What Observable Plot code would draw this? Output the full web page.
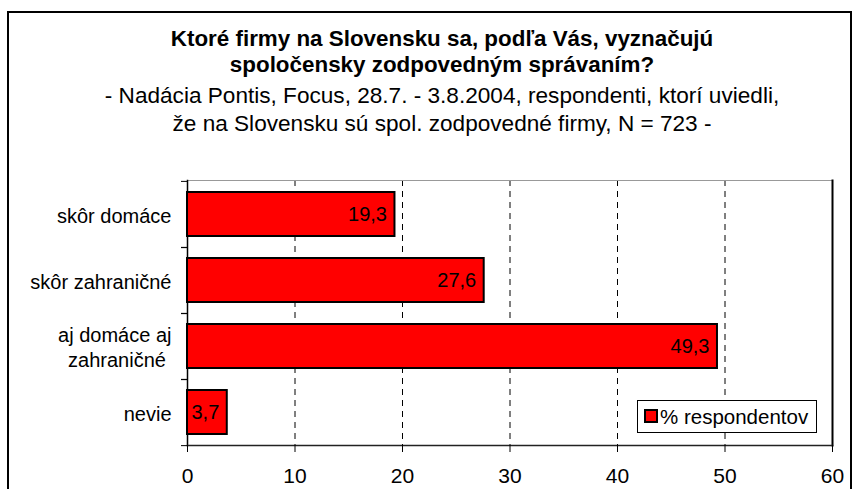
<!DOCTYPE html>
<html>
<head>
<meta charset="utf-8">
<script src="https://cdn.jsdelivr.net/npm/d3@7"></script>
<script src="https://cdn.jsdelivr.net/npm/@observablehq/plot@0.6"></script>
<style>
  html, body { margin: 0; padding: 0; background: white; }
  body { width: 858px; height: 489px; overflow: hidden; position: relative; font-family: "Liberation Sans", Arial, sans-serif; }
  #frame { position: absolute; left: 7px; top: 11px; width: 845px; height: 600px; border: 2px solid black; box-sizing: border-box; pointer-events: none; }
  #title { position: absolute; left: 0; top: 26px; width: 884px; text-align: center; font-weight: bold; font-size: 22.4px; line-height: 26px; color: black; }
  #subtitle { position: absolute; left: 0; top: 82px; width: 884px; text-align: center; font-size: 22.6px; line-height: 27.5px; color: black; }
  #chart { position: absolute; left: 0; top: 0; }
  #legend { position: absolute; left: 637px; top: 400px; width: 180px; height: 33px; box-sizing: border-box; border: 1px solid black; background: white; font-size: 20.5px; line-height: 31px; color: black; white-space: nowrap; }
  #legend .sw { position: absolute; left: 6px; top: 8px; width: 14px; height: 14px; box-sizing: border-box; border: 2px solid black; background: #ff0000; }
  #legend .lt { position: absolute; left: 22px; top: 0; }
</style>
</head>
<body>
<div id="chart"></div>
<div id="title">Ktoré firmy na Slovensku sa, podľa Vás, vyznačujú<br>spoločensky zodpovedným správaním?</div>
<div id="subtitle">- Nadácia Pontis, Focus, 28.7. - 3.8.2004, respondenti, ktorí uviedli,<br>že na Slovensku sú spol. zodpovedné firmy, N = 723 -</div>
<div id="legend"><span class="sw"></span><span class="lt">% respondentov</span></div>
<div id="frame"></div>
<script>
const categories = ["skôr domáce", "skôr zahraničné", "aj domáce aj zahraničné", "nevie"];
const categoryLabels = ["skôr domáce", "skôr zahraničné", "aj domáce aj\nzahraničné\u00a0", "nevie"];
const values = [19.3, 27.6, 49.3, 3.7];
const xTicks = [0, 10, 20, 30, 40, 50, 60];
const gridTicks = [10, 20, 30, 40, 50];
const seriesName = "% respondentov";

const data = categories.map((c, i) => ({category: c, value: values[i]}));
const labelOf = new Map(categories.map((c, i) => [c, categoryLabels[i]]));
const fmt = v => String(v).replace(".", ",");

const step = (445 - 180) / categories.length;

const chart = Plot.plot({
  width: 858,
  height: 489,
  marginTop: 180,
  marginBottom: 44,
  marginLeft: 187,
  marginRight: 26,
  style: {background: "transparent", fontFamily: "Liberation Sans, Arial, sans-serif", fontSize: "20px", color: "black"},
  x: {domain: [0, 60], ticks: xTicks, label: null},
  y: {type: "band", domain: categories, padding: 0, label: null},
  marks: [
    Plot.gridX(gridTicks, {stroke: "black", strokeOpacity: 1, strokeDasharray: "6,5"}),
    Plot.frame({anchor: "top", stroke: "#999999"}),
    Plot.frame({anchor: "right", stroke: "black", strokeWidth: 2}),
    Plot.frame({anchor: "left", stroke: "black", strokeWidth: 1.5}),
    Plot.frame({anchor: "bottom", stroke: "#222222", strokeWidth: 1.5}),
    Plot.barX(data, {x: "value", y: "category", fill: "#ff0000", stroke: "black", strokeWidth: 2, insetTop: 11, insetBottom: 11}),
    Plot.text(data, {x: "value", y: "category", text: d => fmt(d.value), textAnchor: "end", dx: -8, fontSize: 20, fill: "black"}),
    Plot.axisX({ticks: xTicks, tickSize: 7, tickPadding: 16, fontSize: 21, stroke: "black", label: null}),
    Plot.axisY({tickSize: 0, tickPadding: 16, fontSize: 20, lineHeight: 1.25, tickFormat: d => labelOf.get(d), label: null}),
    Plot.axisY({tickSize: 6, tickFormat: () => "", dy: -step / 2, label: null, stroke: "black"}),
    Plot.axisY({tickSize: 6, tickFormat: () => "", dy: step / 2, label: null, stroke: "black"})
  ]
});
document.getElementById("chart").appendChild(chart);
</script>
</body>
</html>
